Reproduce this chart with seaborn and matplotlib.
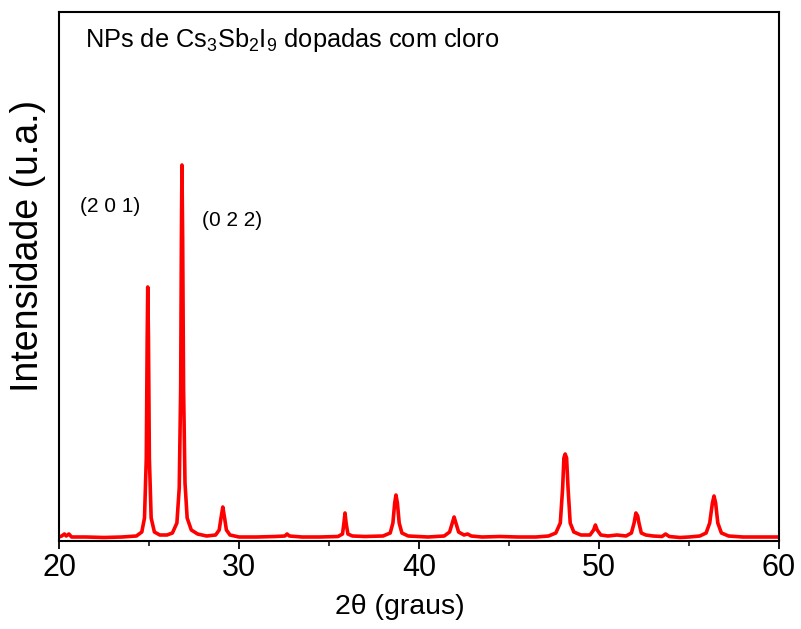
import matplotlib
matplotlib.use("Agg")
import matplotlib.pyplot as plt
import seaborn as sns
import pandas as pd
from matplotlib.ticker import MultipleLocator

# Diffraction trace (2theta in degrees, intensity in arbitrary units)
two_theta = [20.0, 20.15, 20.3, 20.4, 20.55, 20.7, 21.5, 22.5, 23.5, 24.3, 24.6, 24.75, 24.85, 24.9,
             24.93, 24.97, 25.02, 25.12, 25.3, 25.6, 26.0, 26.3, 26.55, 26.68, 26.76, 26.8, 26.83,
             26.87, 26.92, 27.0, 27.12, 27.35, 27.7, 28.2, 28.7, 28.9, 29.0, 29.1, 29.2, 29.3, 29.5,
             30.0, 31.0, 32.0, 32.55, 32.67, 32.8, 33.5, 34.5, 35.5, 35.75, 35.83, 35.89, 35.95,
             36.05, 36.3, 37.0, 38.0, 38.4, 38.55, 38.65, 38.72, 38.8, 38.9, 39.05, 39.4, 40.5,
             41.4, 41.7, 41.85, 41.95, 42.05, 42.2, 42.5, 42.7, 42.9, 43.5, 44.5, 45.5, 46.5, 47.2,
             47.6, 47.85, 47.98, 48.05, 48.12, 48.2, 48.28, 48.4, 48.6, 49.0, 49.5, 49.7, 49.8,
             49.9, 50.1, 50.5, 51.0, 51.5, 51.8, 51.95, 52.05, 52.15, 52.22, 52.35, 52.6, 53.0,
             53.5, 53.7, 53.9, 54.5, 55.0, 55.6, 55.95, 56.15, 56.3, 56.39, 56.48, 56.6, 56.8,
             57.2, 58.0, 59.0, 60.0]
intensity = [1, 2, 4, 2, 4, 1, 1, 0.5, 1, 2, 6, 20, 80, 200,
             251, 200, 80, 20, 6, 3, 3, 5, 15, 50, 150, 300, 373,
             300, 150, 55, 20, 8, 4, 2, 3, 8, 20, 31, 20, 8, 3,
             1, 1, 1.5, 2, 4, 2, 1, 1, 1.5, 4, 15, 25, 15,
             4, 2, 1.5, 2, 5, 15, 35, 43, 35, 15, 5, 2, 1,
             2, 6, 15, 21, 15, 6, 3, 4, 2, 1, 1.5, 1, 1, 2,
             5, 15, 50, 80, 84, 80, 50, 15, 6, 3, 3, 8, 13,
             8, 3, 2, 3, 2, 5, 15, 25, 22, 15, 5, 3, 2,
             1.5, 4, 1.5, 0.5, 1, 2, 5, 15, 35, 42, 35, 15, 5,
             2, 1, 1, 1]

x_ticks = [20, 30, 40, 50, 60]
peak_labels = ["(2 0 1)", "(0 2 2)"]
peak_label_x = [21.17, 27.94]
peak_label_y = [331, 317]
title_text = "NPs de Cs$_3$Sb$_2$I$_9$ dopadas com cloro"

sns.set_theme(style="white")
plt.rcParams["font.family"] = ["Liberation Sans", "DejaVu Sans"]
plt.rcParams["mathtext.fontset"] = "custom"
plt.rcParams["mathtext.rm"] = "Liberation Sans"
plt.rcParams["mathtext.it"] = "Liberation Sans"
plt.rcParams["mathtext.bf"] = "Liberation Sans"
plt.rcParams["text.color"] = "black"
plt.rcParams["axes.labelcolor"] = "black"

df = pd.DataFrame({"2theta": two_theta, "I": intensity})

fig = plt.figure(figsize=(8.01, 6.29), dpi=100)
ax = fig.add_axes([59 / 801, 1 - 541 / 629, 720 / 801, 529 / 629])
sns.lineplot(data=df, x="2theta", y="I", ax=ax, color="#ff0000", linewidth=2.6, sort=False)

ax.set_xlim(20, 60)
ax.set_ylim(-3, 526)
ax.set_xticks(x_ticks)
ax.xaxis.set_minor_locator(MultipleLocator(5))
ax.set_yticks([])
ax.tick_params(axis="x", which="major", direction="out", length=6, width=1.3,
               labelsize=22, colors="black", bottom=True, top=False, pad=3)
ax.tick_params(axis="x", which="minor", direction="out", length=3.5, width=1.3,
               bottom=True, top=False)
for s in ax.spines.values():
    s.set_visible(True)
    s.set_color("black")
    s.set_linewidth(1.5)

ax.set_xlabel("2θ (graus)", fontsize=20.5)
ax.xaxis.set_label_coords(0.474, -0.1)
ax.set_ylabel("Intensidade (u.a.)", fontsize=27)
ax.yaxis.set_label_coords(-0.018, 0.558)
ax.grid(False)

ax.text(0.036, 0.947, title_text, transform=ax.transAxes, fontsize=18.3, va="center", ha="left")
for lbl, lx, ly in zip(peak_labels, peak_label_x, peak_label_y):
    ax.text(lx, ly, lbl, fontsize=15, va="center", ha="left")

fig.savefig("out.png", dpi=100)
